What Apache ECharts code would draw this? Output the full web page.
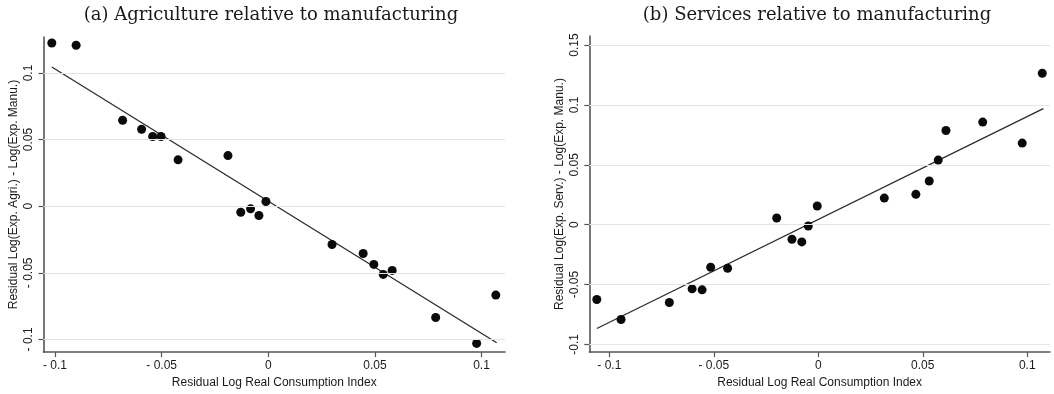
<!DOCTYPE html>
<html>
<head>
<meta charset="utf-8">
<title>Residual expenditure shares vs. real consumption</title>
<script src="https://cdn.jsdelivr.net/npm/echarts@6/dist/echarts.min.js"></script>
<style>
  html, body { margin: 0; padding: 0; background: #ffffff; }
  #chart { width: 1054px; height: 394px; }
</style>
</head>
<body>
<div id="chart"></div>
<script>
// Panel (a): agriculture relative to manufacturing
const agriX = [-0.1015, -0.0901, -0.0683, -0.0594, -0.0542, -0.0503, -0.0423, -0.0189, -0.0129, -0.0083,
               -0.0044, -0.0011, 0.0299, 0.0445, 0.0495, 0.0539, 0.0581, 0.0785, 0.0977, 0.1067];
const agriY = [0.1225, 0.1208, 0.0645, 0.0578, 0.0523, 0.0523, 0.0348, 0.0380, -0.0045, -0.0020,
               -0.0070, 0.0035, -0.0287, -0.0355, -0.0437, -0.0512, -0.0482, -0.0835, -0.1030, -0.0667];
const agriFitX = [-0.1015, 0.1071];
const agriFitY = [0.1045, -0.1025];

// Panel (b): services relative to manufacturing
const servX = [-0.1060, -0.0944, -0.0713, -0.0604, -0.0556, -0.0515, -0.0434, -0.0199, -0.0126, -0.0079,
               -0.0048, -0.0005, 0.0316, 0.0467, 0.0531, 0.0574, 0.0611, 0.0787, 0.0976, 0.1072];
const servY = [-0.0625, -0.0792, -0.0650, -0.0536, -0.0544, -0.0356, -0.0364, 0.0056, -0.0122, -0.0144,
               -0.0011, 0.0156, 0.0222, 0.0253, 0.0364, 0.0539, 0.0786, 0.0856, 0.0681, 0.1264];
const servFitX = [-0.1060, 0.1077];
const servFitY = [-0.0867, 0.0969];

// Tick values and their printed labels
const xTicks = [-0.1, -0.05, 0, 0.05, 0.1];
const xTickLabels = ['- 0.1', '- 0.05', '0', '0.05', '0.1'];
const agriYTicks = [-0.1, -0.05, 0, 0.05, 0.1];
const agriYTickLabels = ['- 0.1', '- 0.05', '0', '0.05', '0.1'];
const servYTicks = [-0.1, -0.05, 0, 0.05, 0.1, 0.15];
const servYTickLabels = ['-0.1', '-0.05', '0', '0.05', '0.1', '0.15'];

const titles = ['(a) Agriculture relative to manufacturing', '(b) Services relative to manufacturing'];
const xName = 'Residual Log Real Consumption Index';
const yNames = ['Residual Log(Exp. Agri.) - Log(Exp. Manu.)', 'Residual Log(Exp. Serv.) - Log(Exp. Manu.)'];

const zip = (a, b) => a.map((v, i) => [v, b[i]]);
const labelOf = (ticks, labels) => (v) => {
  const i = ticks.findIndex(t => Math.abs(t - v) < 1e-9);
  return i >= 0 ? labels[i] : '';
};

const AXIS_COLOR = '#555555';
const TEXT_COLOR = '#1a1a1a';
const SANS = '"Liberation Sans", Arial, sans-serif';
const SERIF = '"DejaVu Serif", "Liberation Serif", serif';

function xAxisDef(gridIndex, min, max) {
  return {
    type: 'value', gridIndex, min, max,
    name: xName, nameLocation: 'middle', nameGap: 22,
    nameTextStyle: { fontFamily: SANS, fontSize: 12, color: TEXT_COLOR },
    axisLine: { show: true, onZero: false, lineStyle: { color: AXIS_COLOR, width: 1.6 } },
    axisTick: { show: true, inside: false, length: 5, customValues: xTicks, lineStyle: { color: AXIS_COLOR, width: 1.2 } },
    axisLabel: { show: true, margin: 8, customValues: xTicks, formatter: labelOf(xTicks, xTickLabels),
                 fontFamily: SANS, fontSize: 12, color: TEXT_COLOR },
    splitLine: { show: false }
  };
}

function yAxisDef(gridIndex, min, max, ticks, labels, name) {
  return {
    type: 'value', gridIndex, min, max,
    name, nameLocation: 'middle', nameGap: 24, nameRotate: 90,
    nameTextStyle: { fontFamily: SANS, fontSize: 12, color: TEXT_COLOR },
    axisLine: { show: true, onZero: false, lineStyle: { color: AXIS_COLOR, width: 1.6 } },
    axisTick: { show: true, inside: false, length: 5, customValues: ticks, lineStyle: { color: AXIS_COLOR, width: 1.2 } },
    axisLabel: { show: true, rotate: 90, margin: 9, customValues: ticks, formatter: labelOf(ticks, labels),
                 fontFamily: SANS, fontSize: 12, color: TEXT_COLOR },
    splitLine: { show: false }
  };
}

// Horizontal reference lines at each y tick
function gridLines(xi, yi, ticks) {
  return {
    type: 'line', xAxisIndex: xi, yAxisIndex: yi, data: [], silent: true, z: 1,
    markLine: {
      silent: true, symbol: ['none', 'none'], animation: false,
      label: { show: false },
      lineStyle: { color: '#e4e4e4', width: 1.2, type: 'solid' },
      data: ticks.map(t => ({ yAxis: t }))
    }
  };
}

function scatter(xi, yi, xs, ys) {
  return {
    type: 'scatter', xAxisIndex: xi, yAxisIndex: yi, z: 4,
    symbol: 'circle', symbolSize: 9,
    itemStyle: { color: '#0a0a0a', opacity: 1 },
    data: zip(xs, ys)
  };
}

function fitLine(xi, yi, xs, ys) {
  return {
    type: 'line', xAxisIndex: xi, yAxisIndex: yi, z: 3,
    showSymbol: false, symbol: 'none',
    lineStyle: { color: '#2b2b2b', width: 1.3 },
    data: zip(xs, ys)
  };
}

const chart = echarts.init(document.getElementById('chart'), null, { renderer: 'canvas' });
chart.setOption({
  animation: false,
  backgroundColor: '#ffffff',
  title: [
    { text: titles[0], left: 266, top: 1, textAlign: 'center',
      textStyle: { fontFamily: SERIF, fontWeight: 'normal', fontSize: 18, color: TEXT_COLOR } },
    { text: titles[1], left: 812, top: 1, textAlign: 'center',
      textStyle: { fontFamily: SERIF, fontWeight: 'normal', fontSize: 18, color: TEXT_COLOR } }
  ],
  grid: [
    { left: 43.5, right: 549, top: 37, bottom: 41.3, containLabel: false },
    { left: 589.3, right: 4, top: 36, bottom: 41.3, containLabel: false }
  ],
  xAxis: [
    xAxisDef(0, -0.1054, 0.111),
    xAxisDef(1, -0.1096, 0.1109)
  ],
  yAxis: [
    yAxisDef(0, -0.1095, 0.127, agriYTicks, agriYTickLabels, yNames[0]),
    yAxisDef(1, -0.1064, 0.1575, servYTicks, servYTickLabels, yNames[1])
  ],
  series: [
    gridLines(0, 0, agriYTicks),
    gridLines(1, 1, servYTicks),
    fitLine(0, 0, agriFitX, agriFitY),
    fitLine(1, 1, servFitX, servFitY),
    scatter(0, 0, agriX, agriY),
    scatter(1, 1, servX, servY)
  ]
});
</script>
</body>
</html>
